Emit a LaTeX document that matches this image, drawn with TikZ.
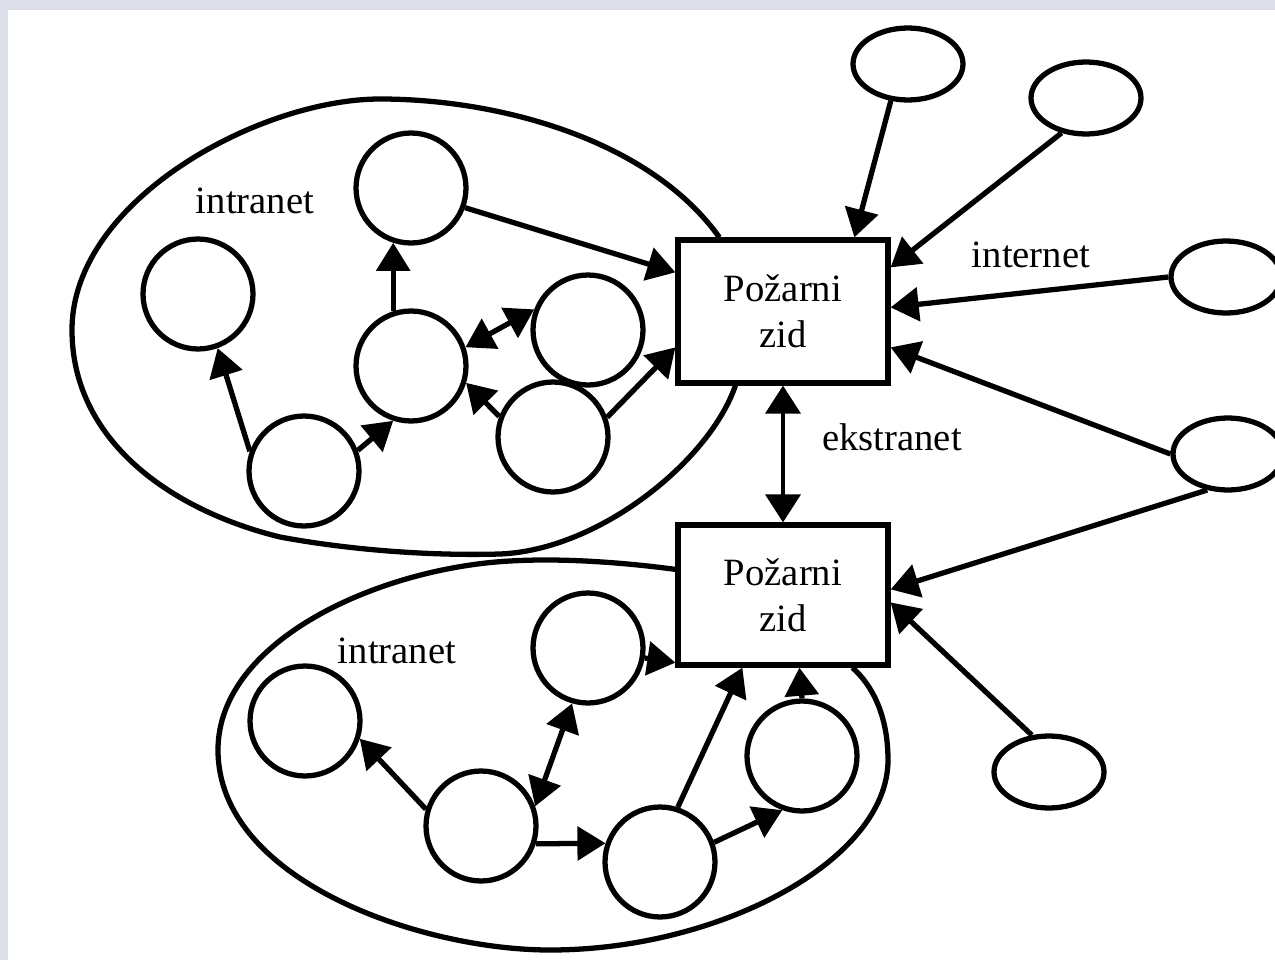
\documentclass[tikz,border=0pt]{standalone}
\usepackage{fontspec}
\setmainfont{Liberation Serif}
\usetikzlibrary{arrows.meta,shapes.geometric,calc}
\definecolor{framegray}{RGB}{220,223,232}

\tikzset{
  host/.style={draw, circle, line width=3pt, minimum size=2.2cm, inner sep=0pt},
  remote/.style={draw, ellipse, line width=3pt, minimum width=2.2cm, minimum height=1.44cm, inner sep=0pt},
  wall/.style={draw, rectangle, line width=3pt, minimum width=4.2cm, align=center,
               font=\fontsize{22}{26}\selectfont},
  tag/.style={font=\fontsize{22}{26}\selectfont, inner sep=0pt},
  link/.style={line width=3pt, -{Triangle[length=16pt,width=19pt]}},
  dlink/.style={line width=3pt, {Triangle[length=16pt,width=19pt]}-{Triangle[length=16pt,width=19pt]}},
  thinlink/.style={line width=2.2pt, {Triangle[length=16pt,width=20pt]}-{Triangle[length=16pt,width=20pt]}},
  outline/.style={line width=3pt, line join=round}
}

\begin{document}
\begin{tikzpicture}[x=0.02cm, y=-0.02cm]
  \useasboundingbox (0,0) rectangle (1275,960);
  \clip (0,0) rectangle (1275,960);
  \fill[framegray] (0,0) rectangle (1275,960);
  \fill[white] (8,10) rectangle (1275,960);

  % firewalls
  \node[wall, minimum height=2.86cm] (F1) at (783,311.5) {Požarni\\zid};
  \node[wall, minimum height=2.8cm]  (F2) at (783,595) {Požarni\\zid};

  % remote hosts on the internet
  \node[remote] (E1) at (908,64)  {};
  \node[remote] (E2) at (1086,98) {};
  \node[remote] (E3) at (1226,277) {};
  \node[remote] (E4) at (1228,454) {};
  \node[remote] (E5) at (1049,772) {};

  % upper intranet hosts
  \node[host] (A1) at (198,294) {};
  \node[host] (A2) at (411,188) {};
  \node[host] (A3) at (411,366) {};
  \node[host] (A4) at (304,471) {};
  \node[host] (A5) at (588,330) {};
  \node[host] (A6) at (553,437) {};

  % lower intranet hosts
  \node[host] (B1) at (305,721) {};
  \node[host] (B2) at (588,648) {};
  \node[host] (B3) at (481,826) {};
  \node[host] (B4) at (660,862) {};
  \node[host] (B5) at (802,756) {};

  % labels
  \node[tag] (lint1) at (255,201) {intranet};
  \node[tag] (lint2) at (397,651) {intranet};
  \node[tag] (lnet)  at (1031,255) {internet};
  \node[tag] (lext)  at (892,437) {ekstranet};

  % intranet boundaries
  \draw[outline] ($(F1.north west)+(44,0)$)
      .. controls (650,140) and (500,99) .. (380,99)
      .. controls (260,99) and (72,200) .. (72,330)
      .. controls (72,440) and (170,510) .. (280,537)
      .. controls (350,550) and (430,556) .. (500,554)
      .. controls (600,550) and (710,460) .. ($(F1.south west)+(60,0)$);
  \draw[outline] ($(F2.north west)+(0,47)$)
      .. controls (620,562) and (560,558) .. (510,561)
      .. controls (380,568) and (218,640) .. (218,750)
      .. controls (218,880) and (420,950) .. (550,950)
      .. controls (720,950) and (888,860) .. (888,760)
      .. controls (888,715) and (872,685) .. ($(F2.south west)+(177,0)$);

  % internet connections
  \draw[link] (E1.245) -- ($(F1.north west)+(179,0)$);
  \draw[link] (E2.235) -- ($(F1.north east)+(0,30)$);
  \draw[link] (E3.west) -- ($(F1.north east)+(0,70)$);
  \draw[link] (E4.west) -- ($(F1.north east)+(0,110)$);
  \draw[link] (E4.240) -- ($(F2.north east)+(0,67)$);
  \draw[link] (E5.115) -- ($(F2.north east)+(0,80)$);

  % extranet link between the firewalls
  \draw[thinlink] (F1.south) -- (F2.north);

  % upper intranet connections
  \draw[link]  (A4.160) -- (A1.-70);
  \draw[link]  (A4.21)  -- (A3.-108);
  \draw[link]  (A3.108) -- (A2.-108);
  \draw[link]  (A2.-20) -- ($(F1.north west)+(0,35)$);
  \draw[dlink] (A3.19)  -- (A5.159);
  \draw[link]  (A6.159) -- (A3.-17);
  \draw[link]  (A6.20)  -- ($(F1.north west)+(0,110)$);

  % lower intranet connections
  \draw[link]  (B3.163) -- (B1.-18);
  \draw[dlink] (B3.20)  -- (B2.-106);
  \draw[link]  (B3.-18) -- (B4.161);
  \draw[link]  (B4.20)  -- (B5.-110);
  \draw[link]  (B4.72)  -- ($(F2.south west)+(67,0)$);
  \draw[link]  (B5.north) -- ($(F2.south west)+(124,0)$);
  \draw[link]  (B2.-10) -- ($(F2.south west)+(0,-5)$);
\end{tikzpicture}
\end{document}
